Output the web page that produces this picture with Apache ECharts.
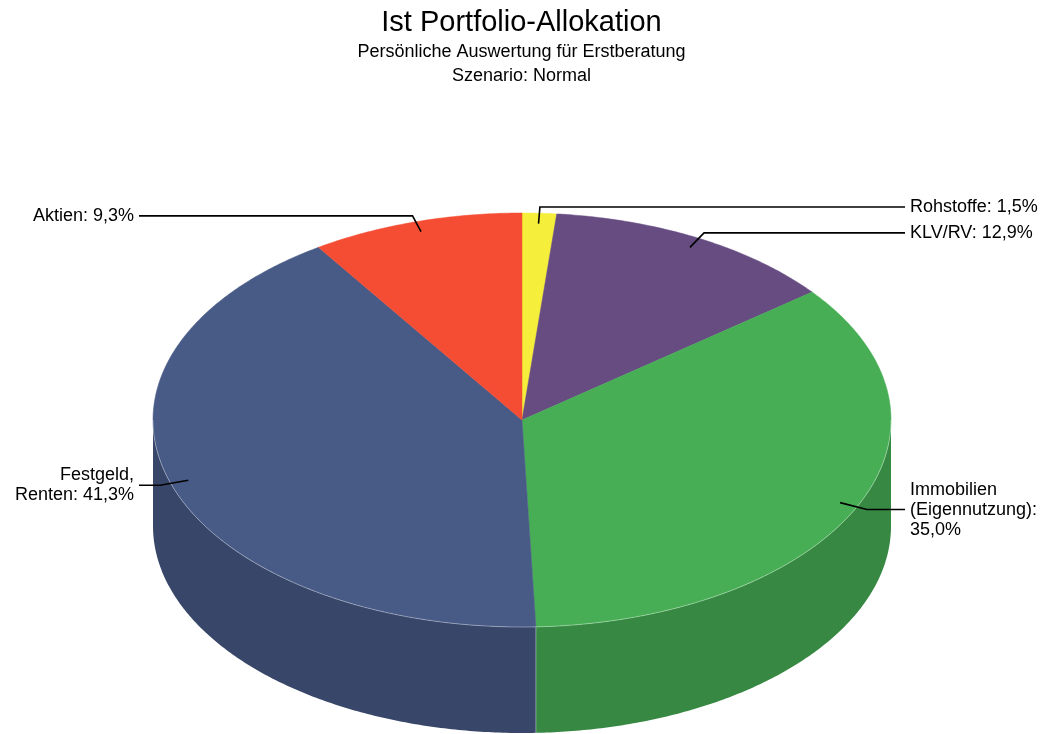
<!DOCTYPE html>
<html>
<head>
<meta charset="utf-8">
<script src="https://cdn.jsdelivr.net/npm/echarts@6/dist/echarts.min.js"></script>
<style>
  html, body { margin: 0; padding: 0; background: #fff; }
  #chart { width: 1043px; height: 734px; }
</style>
</head>
<body>
<div id="chart"></div>
<script>
// slices, clockwise from 12 o'clock
const categories = ['Rohstoffe', 'KLV/RV', 'Immobilien\n(Eigennutzung)', 'Festgeld,\nRenten', 'Aktien']
const values = [1.5, 12.9, 35.0, 41.3, 9.3]
const labelSep = [': ', ': ', ':\n', ': ', ': ']
const colors = ['#F5EE3A', '#674C82', '#47AE55', '#485A86', '#F54D33']

// geometry of the fake 3d pie
const CX = 522, CY = 420, RX = 369, RY = 207, DEPTH = 106
const LABEL_RIGHT_X = 905, LABEL_LEFT_X = 139
const FONT = 'Liberation Sans, Arial, sans-serif'

const total = values.reduce((a, b) => a + b, 0)
const starts = []
let acc = 0
values.forEach(v => { starts.push(acc); acc += v })

function pt(theta, r, dy) {
  return [CX + RX * r * Math.sin(theta), CY - RY * r * Math.cos(theta) + (dy || 0)]
}

function darken(hex, f) {
  const n = parseInt(hex.slice(1), 16)
  const r = Math.round(((n >> 16) & 255) * f)
  const g = Math.round(((n >> 8) & 255) * f)
  const b = Math.round((n & 255) * f)
  return 'rgb(' + r + ',' + g + ',' + b + ')'
}

function fmt(v) {
  return v.toFixed(1).replace('.', ',') + '%'
}

function arc(a0, a1, r, dy) {
  const n = Math.max(2, Math.ceil((a1 - a0) / 0.01))
  const pts = []
  for (let k = 0; k <= n; k++) pts.push(pt(a0 + (a1 - a0) * k / n, r, dy))
  return pts
}

function renderSlice(params, api) {
  const i = params.dataIndex
  const v = api.value(0)
  const a0 = starts[i] / total * 2 * Math.PI
  const a1 = (starts[i] + v) / total * 2 * Math.PI
  const color = colors[i]
  const children = []

  // top face
  children.push({
    type: 'polygon',
    z2: 10,
    shape: { points: [[CX, CY]].concat(arc(a0, a1, 1)) },
    style: { fill: color, stroke: color, lineWidth: 0.5 }
  })

  // front wall (only the part facing the viewer)
  const s0 = Math.max(a0, Math.PI / 2)
  const s1 = Math.min(a1, 3 * Math.PI / 2)
  if (s1 > s0) {
    const upper = arc(s0, s1, 1)
    const lower = arc(s0, s1, 1, DEPTH).reverse()
    children.push({
      type: 'polygon',
      z2: 1,
      shape: { points: upper.concat(lower) },
      style: { fill: darken(color, 0.78) }
    })
    children.push({
      type: 'polyline',
      z2: 11,
      shape: { points: upper },
      style: { stroke: 'rgba(255,255,255,0.35)', lineWidth: 1, fill: null }
    })
    if (a0 > Math.PI / 2) {
      children.push({
        type: 'line',
        z2: 2,
        shape: { x1: pt(a0, 1)[0], y1: pt(a0, 1)[1], x2: pt(a0, 1, DEPTH)[0], y2: pt(a0, 1, DEPTH)[1] },
        style: { stroke: 'rgba(255,255,255,0.35)', lineWidth: 1 }
      })
    }
  }

  // label with leader line
  const mid = (a0 + a1) / 2
  const anchor = pt(mid, 0.95)
  const elbow = pt(mid, 1.03)
  const right = Math.sin(mid) >= 0
  const endX = right ? LABEL_RIGHT_X : LABEL_LEFT_X
  children.push({
    type: 'polyline',
    z2: 20,
    shape: { points: [anchor, elbow, [endX, elbow[1]]] },
    style: { stroke: '#000', lineWidth: 1.6, fill: null }
  })
  children.push({
    type: 'text',
    z2: 20,
    style: {
      text: categories[i] + labelSep[i] + fmt(v),
      x: right ? endX + 5 : endX - 5,
      y: elbow[1],
      align: right ? 'left' : 'right',
      verticalAlign: 'middle',
      fontSize: 18,
      lineHeight: 20,
      fontFamily: FONT,
      fill: '#000'
    }
  })

  return { type: 'group', children }
}

const chart = echarts.init(document.getElementById('chart'), null, { renderer: 'canvas' })
chart.setOption({
  animation: false,
  backgroundColor: '#fff',
  title: {
    text: 'Ist Portfolio-Allokation',
    subtext: 'Persönliche Auswertung für Erstberatung\nSzenario: Normal',
    left: 'center',
    top: 3,
    itemGap: 3,
    textStyle: { fontSize: 29, fontWeight: 'normal', color: '#000', fontFamily: FONT },
    subtextStyle: { fontSize: 18, lineHeight: 24, color: '#000', fontFamily: FONT }
  },
  series: [{
    type: 'custom',
    coordinateSystem: 'none',
    renderItem: renderSlice,
    data: values.map((v, i) => ({ name: categories[i], value: [v] }))
  }]
})
</script>
</body>
</html>
